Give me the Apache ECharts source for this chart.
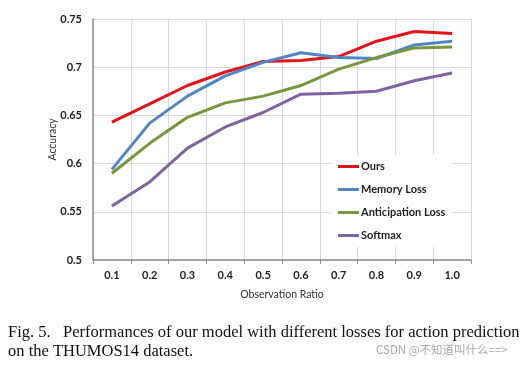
<!DOCTYPE html>
<html><head><meta charset="utf-8">
<script src="https://cdn.jsdelivr.net/npm/echarts@6/dist/echarts.min.js"></script>
<style>html,body{margin:0;padding:0;background:#fff}#c{width:532px;height:365px}</style>
</head><body><div id="c"></div>
<script>
const categories = ['0.1','0.2','0.3','0.4','0.5','0.6','0.7','0.8','0.9','1.0'];
const ours = [0.643,0.662,0.681,0.695,0.706,0.707,0.711,0.727,0.737,0.735];
const memoryLoss = [0.594,0.642,0.670,0.691,0.705,0.715,0.710,0.709,0.723,0.727];
const anticipationLoss = [0.590,0.621,0.648,0.663,0.670,0.681,0.698,0.710,0.720,0.721];
const softmax = [0.556,0.581,0.616,0.638,0.653,0.672,0.673,0.675,0.686,0.694];
const yTicks = [0.5,0.55,0.6,0.65,0.7,0.75];

const chart = echarts.init(document.getElementById('c'), null, {renderer:'canvas'});
const mk = (name, data, color) => ({name, type:'line', data, symbol:'none', smooth:false,
  lineStyle:{color, width:3}, itemStyle:{color}});
chart.setOption({
  animation:false,
  grid:{left:93, right:61, top:19, bottom:105},
  xAxis:{type:'category', data:categories, boundaryGap:true,
    name:'Observation Ratio', nameLocation:'middle', nameGap:29,
    nameTextStyle:{fontFamily:'Lato', fontSize:10.5, color:'#333'},
    axisLine:{lineStyle:{color:'#8c8c8c', width:1.5}},
    axisTick:{show:true, length:4, lineStyle:{color:'#8c8c8c'}},
    axisLabel:{fontFamily:'Lato', fontWeight:'bold', fontSize:11, color:'#222', margin:10},
    splitLine:{show:true, lineStyle:{color:'#d9d9d9', width:1}}
  },
  yAxis:{type:'value', min:0.5, max:0.75, interval:0.05,
    name:'Accuracy', nameLocation:'middle', nameGap:35, nameRotate:90, nameMoveOverlap:false,
    nameTextStyle:{fontFamily:'Lato', fontSize:10.5, color:'#333'},
    axisLine:{show:true, lineStyle:{color:'#8c8c8c', width:1.5}},
    axisTick:{show:false},
    axisLabel:{fontFamily:'Lato', fontWeight:'bold', fontSize:11, color:'#222', margin:11,
      formatter:v=>String(+v.toFixed(2))},
    splitLine:{show:true, lineStyle:{color:'#d9d9d9', width:1}}
  },
  legend:{orient:'vertical', left:332, top:155, backgroundColor:'#fff', padding:[6,6,6,6],
    icon:'rect', itemWidth:21, itemHeight:3, itemGap:12,
    textStyle:{fontFamily:'Lato', fontWeight:'bold', fontSize:11, color:'#222', padding:[0,0,0,-3]},
    data:['Ours','Memory Loss','Anticipation Loss','Softmax']},
  graphic:[
    {type:'text', left:8, top:324, style:{text:'Fig. 5.   Performances of our model with different losses for action prediction',
      font:'16.5px "Liberation Serif"', fill:'#111'}},
    {type:'text', left:8, top:343, style:{text:'on the THUMOS14 dataset.', font:'16.5px "Liberation Serif"', fill:'#111'}},
    {type:'text', left:376, top:344, style:{text:'CSDN @不知道叫什么==>', font:'11.5px "Noto Sans CJK SC"', fill:'#a8a8a8'}}
  ],
  series:[
    mk('Ours', ours, '#e3151b'),
    mk('Memory Loss', memoryLoss, '#4f86c6'),
    mk('Anticipation Loss', anticipationLoss, '#7a973d'),
    mk('Softmax', softmax, '#8064a2')
  ]
});
</script></body></html>
